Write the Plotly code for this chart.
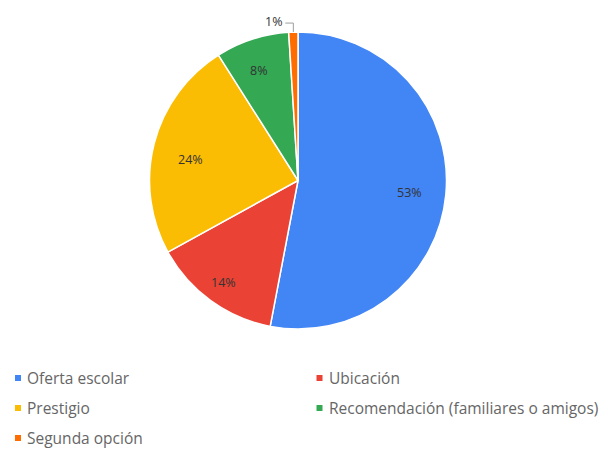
import math
import plotly.graph_objects as go

labels = ["Oferta escolar", "Ubicación", "Prestigio",
          "Recomendación (familiares o amigos)", "Segunda opción"]
values = [53, 14, 24, 8, 1]
colors = ["#4285F4", "#EA4335", "#FBBC04", "#34A853", "#FF6D01"]
# slices whose percentage is written inside the pie; the rest go outside
inside = [True, True, True, True, False]

W, H = 608, 451
CX, CY, R = 298, 180.5, 148.5  # pie centre and radius in pixels

fig = go.Figure()
fig.add_trace(go.Pie(
    labels=labels, values=values, sort=False, direction="clockwise",
    rotation=0,
    marker=dict(colors=colors, line=dict(color="white", width=1.5)),
    textinfo="none",
    showlegend=False,
    domain=dict(x=[(CX - R) / W, (CX + R) / W],
                y=[1 - (CY + R) / H, 1 - (CY - R) / H]),
))

label_font = dict(family="Open Sans", size=12.5, color="#333333")

# percentage labels: near the rim inside, or outside with a leader line
total = sum(values)
cum = 0
for v, ins in zip(values, inside):
    mid = math.radians(360 * (cum + v / 2) / total)
    cum += v
    if ins:
        k = 0.85 * R
        px = CX + k * math.sin(mid)
        py = CY - k * math.cos(mid)
        fig.add_annotation(text=f"{v}%", xref="paper", yref="paper",
                           x=px / W, y=1 - py / H, showarrow=False,
                           font=label_font)
    else:
        ex = CX + R * math.sin(mid)
        ey = CY - R * math.cos(mid)
        fig.add_shape(type="path", xref="paper", yref="paper",
                      path=(f"M {ex / W} {1 - ey / H} "
                            f"L {ex / W} {1 - (ey - 9) / H} "
                            f"L {(ex - 8) / W} {1 - (ey - 9) / H}"),
                      line=dict(color="#9e9e9e", width=1))
        fig.add_annotation(text=f"{v}%", xref="paper", yref="paper",
                           x=(ex - 9) / W, y=1 - (ey - 11) / H,
                           xanchor="right", yanchor="middle", showarrow=False,
                           font=label_font)

# legend drawn as two columns of small squares with labels
col_x = [18, 319.5]
row_y = [378, 408, 438]
for i, (lab, col) in enumerate(zip(labels, colors)):
    x = col_x[i % 2]
    y = row_y[i // 2]
    fig.add_shape(type="rect", xref="paper", yref="paper",
                  x0=(x - 3) / W, x1=(x + 3) / W,
                  y0=1 - (y + 3) / H, y1=1 - (y - 3) / H,
                  fillcolor=col, line=dict(width=0))
    fig.add_annotation(text=lab, xref="paper", yref="paper",
                       x=(x + 7) / W, y=1 - y / H, xanchor="left", yanchor="middle",
                       showarrow=False,
                       font=dict(family="Open Sans", size=15.5, color="#666666"))

fig.update_layout(width=W, height=H, margin=dict(l=0, r=0, t=0, b=0),
                  paper_bgcolor="white", plot_bgcolor="white")
fig.write_html("out.html")
